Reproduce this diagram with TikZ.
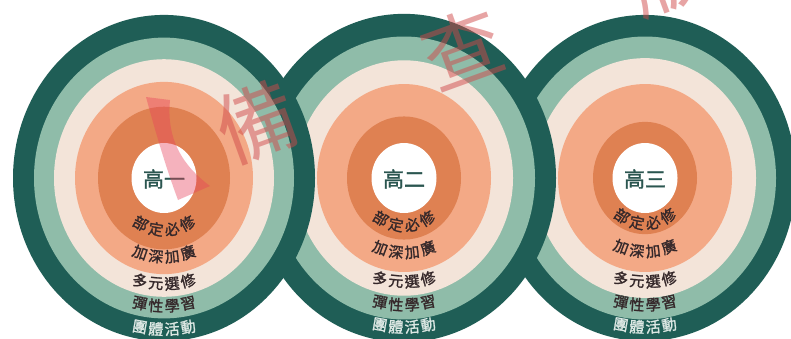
\documentclass[tikz,border=0pt]{standalone}
\usepackage{fontspec}
\newfontfamily\cjk{Noto Sans CJK TC}
\newfontfamily\cjkb{Noto Sans CJK TC}[FakeBold=1.5]
\definecolor{dkgreen}{HTML}{1F5E56}
\definecolor{ltgreen}{HTML}{8FBCA9}
\definecolor{cbeige}{HTML}{F3E4D9}
\definecolor{salmon}{HTML}{F3A986}
\definecolor{dkorange}{HTML}{DF8152}
\definecolor{cteal}{HTML}{2B5650}
\definecolor{lbltext}{HTML}{35282A}
\definecolor{lbllight}{HTML}{DDE8E4}
\definecolor{wmred}{HTML}{D04A4A}
\definecolor{wmpink}{HTML}{E8405A}
\newcommand\rings[6]{%
  \fill[dkgreen] (#1,178) ellipse [x radius=#6pt, y radius={1.08*#6pt}];
  \fill[ltgreen] (#1,178) ellipse [x radius=#5pt, y radius={1.08*#5pt}];
  \fill[cbeige] (#1,178) ellipse [x radius=#4pt, y radius={1.08*#4pt}];
  \fill[salmon] (#1,178) ellipse [x radius=#3pt, y radius={1.08*#3pt}];
  \fill[dkorange] (#1,178) ellipse [x radius=#2pt, y radius={1.08*#2pt}];
  \fill[white] (#1,178) ellipse [x radius=32.5pt, y radius=35pt];
}
\newcommand\arctext[5]{%
  \foreach \ch [count=\ci] in {#5} {%
    \pgfmathsetmacro\angc{(\ci-2.5)*16.2/#2*57.2958}%
    \node[lbl, text=#3, rotate=\angc] (#4-\ci) at ({#1+#2*sin(\angc)}, {178+1.08*#2*cos(\angc)}) {\ch};
  }}
\newcommand\allrings[8]{% cx, r1..r5, suffix, centre text
  \arctext{#1}{#2}{lbltext}{bd#7}{部,定,必,修}
  \arctext{#1}{#3}{lbltext}{js#7}{加,深,加,廣}
  \arctext{#1}{#4}{lbltext}{dy#7}{多,元,選,修}
  \arctext{#1}{#5}{lbltext}{tx#7}{彈,性,學,習}
  \arctext{#1}{#6}{lbllight}{tt#7}{團,體,活,動}
  \node[ctr] (g#7) at (#1,179) {#8};
}
\tikzset{
  lbl/.style={font=\cjkb\fontsize{15}{15}\selectfont, inner sep=0pt},
  ctr/.style={font=\cjkb\fontsize{21}{21}\selectfont, text=cteal, inner sep=0pt},
  wm/.style={font=\cjk\fontsize{80}{80}\selectfont, text=wmred, text opacity=0.5, inner sep=0pt, rotate=20}
}
\begin{document}
\begin{tikzpicture}[x=1pt,y=-1pt]
\useasboundingbox (0,0) rectangle (791,338);
\clip (0,0) rectangle (791,338);
\fill[white] (0,0) rectangle (791,338);
% third year (back)
\rings{645}{52}{87}{111}{131}{151}
\allrings{645}{42}{68}{96}{117.5}{138}{3}{高三}
% second year
\rings{404}{57}{87}{109}{131}{152}
\allrings{404}{44}{69}{96}{117.5}{138}{2}{高二}
% first year (front)
\rings{164}{66}{89}{110}{130}{151}
\allrings{164}{48}{73}{98}{118.5}{140}{1}{高一}
% watermark
\fill[wmpink, opacity=0.4] (146,97) -- (170,100) .. controls (167,130) and (175,160) .. (210,186)
  -- (178,200) .. controls (165,165) and (155,130) .. (146,97) -- cycle;
\node[wm] (wm1) at (257,122) {備};
\node[wm] (wm2) at (462,48) {查};
\node[wm] (wm3) at (667,-25) {版};
\end{tikzpicture}
\end{document}
